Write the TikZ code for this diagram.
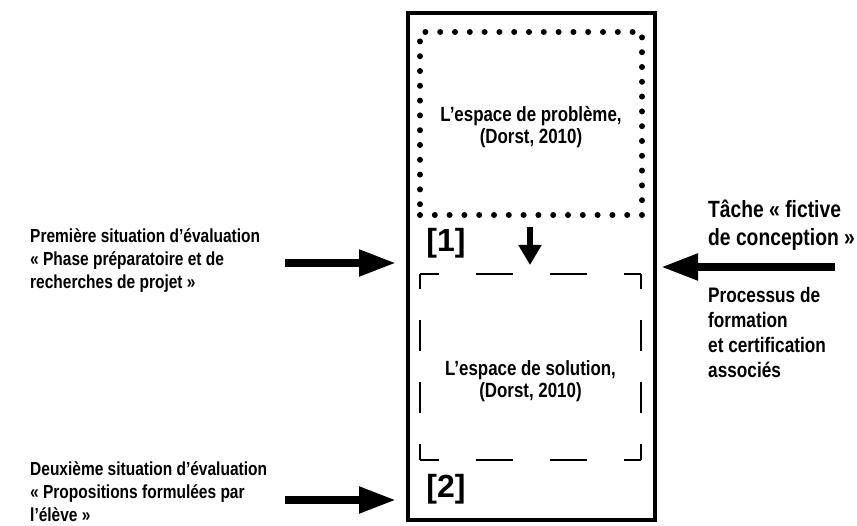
\documentclass[tikz,border=0pt]{standalone}
\usepackage{fontspec}
\setmainfont{Liberation Sans}
\newfontfamily\narrowfont[FakeStretch=0.82]{Liberation Sans}
\usepackage{xcolor}
\usetikzlibrary{arrows.meta,positioning,calc}

\begin{document}
\begin{tikzpicture}[x=1pt, y=-1pt, >={Triangle[length=37pt, width=25pt]},
    fleche/.style={->, line width=8pt},
    cadrebox/.style={draw, line width=3.5pt, minimum width=247pt, minimum height=507pt, inner sep=0pt, outer sep=0pt},
    pointbox/.style={draw, line width=6pt, line cap=round, dash pattern=on 0pt off 14.8pt, minimum width=222pt, minimum height=183pt, inner sep=0pt, outer sep=0pt},
    videbox/.style={minimum width=221pt, minimum height=186pt, inner sep=0pt, outer sep=0pt},
    tiret/.style={line width=2.5pt},
    boxtext/.style={align=center, anchor=base, inner sep=0pt, font=\narrowfont\bfseries\fontsize{20.6}{22}\selectfont},
    sidetext/.style={align=left, anchor=base west, inner sep=0pt, font=\narrowfont\bfseries\fontsize{18.9}{23}\selectfont},
    numtext/.style={font=\bfseries\fontsize{32}{32}\selectfont}]
    \useasboundingbox (0,0) rectangle (857,526);

    % Draw main frame and the two spaces
    \node[cadrebox] (cadre) at (531.5,266.5) {};
    \node[pointbox] (probleme) at (531,123.5) {};
    \node[boxtext] (probtxt) at (531,144) {L’espace de problème,\\(Dorst, 2010)};
    \node[videbox] (solution) at (530.5,367) {};
    \node[boxtext] (soltxt) at (530.5,398) {L’espace de solution,\\(Dorst, 2010)};

    % Dashed border of the solution space
    \draw[tiret, dash pattern=on 37pt off 37pt, dash phase=18.5pt] (solution.north west) -- (solution.north east);
    \draw[tiret, dash pattern=on 37pt off 37pt, dash phase=18.5pt] (solution.south west) -- (solution.south east);
    \draw[tiret, dash pattern=on 31pt off 31pt, dash phase=15.5pt] (solution.north west) -- (solution.south west);
    \draw[tiret, dash pattern=on 31pt off 31pt, dash phase=15.5pt] (solution.north east) -- (solution.south east);

    % Step numbers
    \node[numtext] (un) at (446,243) {[1]};
    \node[numtext] (deux) at (446,489) {[2]};

    % Arrow between the two spaces
    \coordinate (hautfl) at (530,0);
    \draw[-{Triangle[length=20pt, width=22pt]}, line width=6pt, shorten <=12pt, shorten >=9pt] (hautfl |- probleme.south) -- (hautfl |- solution.north);

    % Left texts and arrows
    \node[sidetext] (sit1) at (30,289) {Première situation d’évaluation\\« Phase préparatoire et de\\recherches de projet »};
    \node[sidetext] (sit2) at (30,521) {Deuxième situation d’évaluation\\« Propositions formulées par\\l’élève »};
    \coordinate (dep1) at (285,263);
    \coordinate (dep2) at (285,500);
    \draw[fleche, shorten >=12pt] (dep1) -- (dep1 -| cadre.west);
    \draw[fleche, shorten >=12pt] (dep2) -- (dep2 -| cadre.west);

    % Right texts and arrow
    \node[sidetext, font=\narrowfont\bfseries\fontsize{23.5}{28}\selectfont] (tache) at (708,246) {Tâche « fictive\\de conception »};
    \node[sidetext, font=\narrowfont\bfseries\fontsize{21}{25}\selectfont] (processus) at (708,378) {Processus de\\formation\\et certification\\associés};
    \coordinate (dep3) at (835,267);
    \draw[fleche, shorten >=6pt] (dep3) -- (dep3 -| cadre.east);
\end{tikzpicture}
\end{document}
